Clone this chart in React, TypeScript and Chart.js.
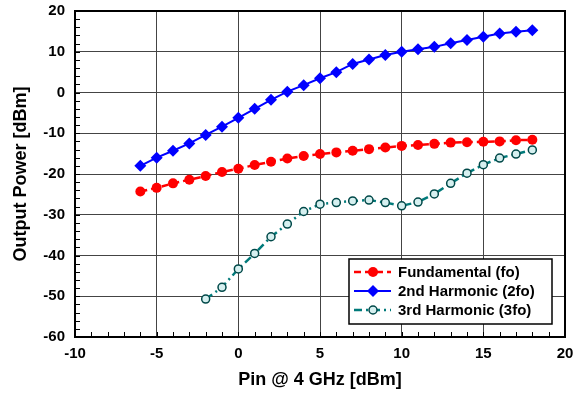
import React, { useEffect, useRef } from "react";
import { Chart, registerables } from "chart.js";

Chart.register(...registerables);

const FONT = "'Liberation Sans', Arial, Helvetica, sans-serif";

// Input power (dBm)
const pinMain = [-6, -5, -4, -3, -2, -1, 0, 1, 2, 3, 4, 5, 6, 7, 8, 9, 10, 11, 12, 13, 14, 15, 16, 17, 18];
const pinThird = [-2, -1, 0, 1, 2, 3, 4, 5, 6, 7, 8, 9, 10, 11, 12, 13, 14, 15, 16, 17, 18];

// Output power (dBm)
const fundamental = [-24.3, -23.4, -22.3, -21.4, -20.5, -19.5, -18.7, -17.8, -17.0, -16.2, -15.6, -15.1, -14.7, -14.3, -13.9, -13.5, -13.1, -12.9, -12.6, -12.3, -12.2, -12.1, -12.0, -11.7, -11.6];
const secondHarmonic = [-18.0, -16.0, -14.3, -12.5, -10.4, -8.4, -6.2, -4.0, -1.8, 0.2, 1.8, 3.5, 5.0, 7.0, 8.1, 9.2, 10.0, 10.6, 11.2, 12.1, 12.9, 13.7, 14.5, 14.9, 15.3];
const thirdHarmonic = [-50.7, -47.8, -43.3, -39.5, -35.4, -32.3, -29.2, -27.4, -27.0, -26.6, -26.4, -27.0, -27.8, -26.9, -24.9, -22.3, -19.8, -17.7, -16.1, -15.1, -14.1];

const seriesLabels = ["Fundamental (fo)", "2nd Harmonic (2fo)", "3rd Harmonic (3fo)"];
const xTitle = "Pin @ 4 GHz [dBm]";
const yTitle = "Output Power [dBm]";
const xMin = -10, xMax = 20, xStep = 5, xMinor = 1;
const yMin = -60, yMax = 20, yStep = 10, yMinor = 2;

const toPoints = (xs: number[], ys: number[]) => xs.map((x, i) => ({ x, y: ys[i] }));

function drawMarker(ctx: CanvasRenderingContext2D, ds: any, cx: number, cy: number) {
  ctx.save();
  ctx.setLineDash([]);
  ctx.fillStyle = ds.pointBackgroundColor;
  ctx.strokeStyle = ds.pointBorderColor;
  ctx.lineWidth = ds.pointBorderWidth;
  const r = ds.pointRadius;
  ctx.beginPath();
  if (ds.pointStyle === "rectRot") {
    ctx.moveTo(cx, cy - r);
    ctx.lineTo(cx + r, cy);
    ctx.lineTo(cx, cy + r);
    ctx.lineTo(cx - r, cy);
    ctx.closePath();
  } else {
    ctx.arc(cx, cy, r, 0, Math.PI * 2);
  }
  ctx.fill();
  if (ds.pointBorderWidth > 0) ctx.stroke();
  ctx.restore();
}

const decorPlugin = {
  id: "decor",
  afterDraw(chart: any) {
    const { ctx, chartArea: a, scales } = chart;
    const x = scales.x, y = scales.y;
    ctx.save();
    // minor ticks
    ctx.strokeStyle = "#000";
    ctx.lineWidth = 1;
    ctx.setLineDash([]);
    ctx.beginPath();
    for (let v = yMin; v <= yMax; v += yMinor) {
      const py = Math.round(y.getPixelForValue(v)) + 0.5;
      ctx.moveTo(a.left, py);
      ctx.lineTo(a.left + 5, py);
    }
    for (let v = xMin; v <= xMax; v += xMinor) {
      const px = Math.round(x.getPixelForValue(v)) + 0.5;
      ctx.moveTo(px, a.bottom);
      ctx.lineTo(px, a.bottom - 5);
    }
    ctx.stroke();
    // plot border
    ctx.lineWidth = 2;
    ctx.strokeRect(a.left, a.top, a.right - a.left, a.bottom - a.top);

    // legend box
    const w = 203, h = 65;
    const lx = a.right - 13 - w;
    const ly = a.bottom - 13 - h;
    ctx.fillStyle = "#fff";
    ctx.fillRect(lx, ly, w, h);
    ctx.lineWidth = 1.5;
    ctx.strokeStyle = "#000";
    ctx.strokeRect(lx, ly, w, h);
    ctx.font = `bold 15px ${FONT}`;
    ctx.textBaseline = "middle";
    ctx.textAlign = "left";
    chart.data.datasets.forEach((ds: any, i: number) => {
      const cy = ly + 13 + i * 19;
      ctx.save();
      ctx.strokeStyle = ds.borderColor;
      ctx.lineWidth = ds.borderWidth;
      ctx.setLineDash(ds.borderDash || []);
      ctx.beginPath();
      ctx.moveTo(lx + 5, cy);
      ctx.lineTo(lx + 42, cy);
      ctx.stroke();
      ctx.restore();
      drawMarker(ctx, ds, lx + 24, cy);
      ctx.fillStyle = "#000";
      ctx.fillText(ds.label, lx + 49, cy + 1);
    });
    ctx.restore();
  },
};

export default function App() {
  const ref = useRef<HTMLCanvasElement | null>(null);

  useEffect(() => {
    document.body.style.margin = "0";
    const canvas = ref.current;
    if (!canvas) return;
    const tickFont = { family: FONT, size: 15, weight: "bold" as const };
    const titleFont = { family: FONT, size: 18, weight: "bold" as const };
    const chart = new Chart(canvas, {
      type: "line",
      data: {
        datasets: [
          {
            label: seriesLabels[0],
            data: toPoints(pinMain, fundamental),
            borderColor: "#ff0000",
            backgroundColor: "#ff0000",
            borderWidth: 2.5,
            borderDash: [7, 4],
            pointStyle: "circle",
            pointRadius: 5,
            pointBackgroundColor: "#ff0000",
            pointBorderColor: "#ff0000",
            pointBorderWidth: 0,
            tension: 0,
          },
          {
            label: seriesLabels[1],
            data: toPoints(pinMain, secondHarmonic),
            borderColor: "#0000ff",
            backgroundColor: "#0000ff",
            borderWidth: 2,
            borderDash: [],
            pointStyle: "rectRot",
            pointRadius: 6,
            pointBackgroundColor: "#0000ff",
            pointBorderColor: "#0000ff",
            pointBorderWidth: 0,
            tension: 0,
          },
          {
            label: seriesLabels[2],
            data: toPoints(pinThird, thirdHarmonic),
            borderColor: "#007a7a",
            backgroundColor: "#007a7a",
            borderWidth: 2.5,
            borderDash: [8, 4, 2, 4],
            pointStyle: "circle",
            pointRadius: 4,
            pointBackgroundColor: "#d6f0f0",
            pointBorderColor: "#004848",
            pointBorderWidth: 1.5,
            tension: 0,
          },
        ] as any,
      },
      options: {
        responsive: false,
        animation: false,
        layout: { padding: { top: 11, right: 19, left: 0, bottom: 0 } },
        plugins: { legend: { display: false }, tooltip: { enabled: false } },
        scales: {
          x: {
            type: "linear",
            min: xMin,
            max: xMax,
            ticks: { stepSize: xStep, font: tickFont, color: "#000", padding: 8 },
            grid: { color: "#444", lineWidth: 1, drawTicks: false },
            border: { display: false },
            title: { display: true, text: xTitle, font: titleFont, color: "#000", padding: { top: 0, bottom: 2 } },
            afterFit: (s: any) => { s.height = 56; s.paddingLeft = 0; s.paddingRight = 0; },
          },
          y: {
            type: "linear",
            min: yMin,
            max: yMax,
            ticks: { stepSize: yStep, font: tickFont, color: "#000", padding: 10 },
            grid: { color: "#444", lineWidth: 1, drawTicks: false },
            border: { display: false },
            title: { display: true, text: yTitle, font: titleFont, color: "#000", padding: { top: 10, bottom: 0 } },
            afterFit: (s: any) => { s.width = 75; s.paddingTop = 0; s.paddingBottom = 0; },
          },
        },
      } as any,
      plugins: [decorPlugin],
    });
    return () => chart.destroy();
  }, []);

  return (
    <div style={{ width: 584, height: 393 }}>
      <canvas ref={ref} width={584} height={393} style={{ display: "block" }} />
    </div>
  );
}
